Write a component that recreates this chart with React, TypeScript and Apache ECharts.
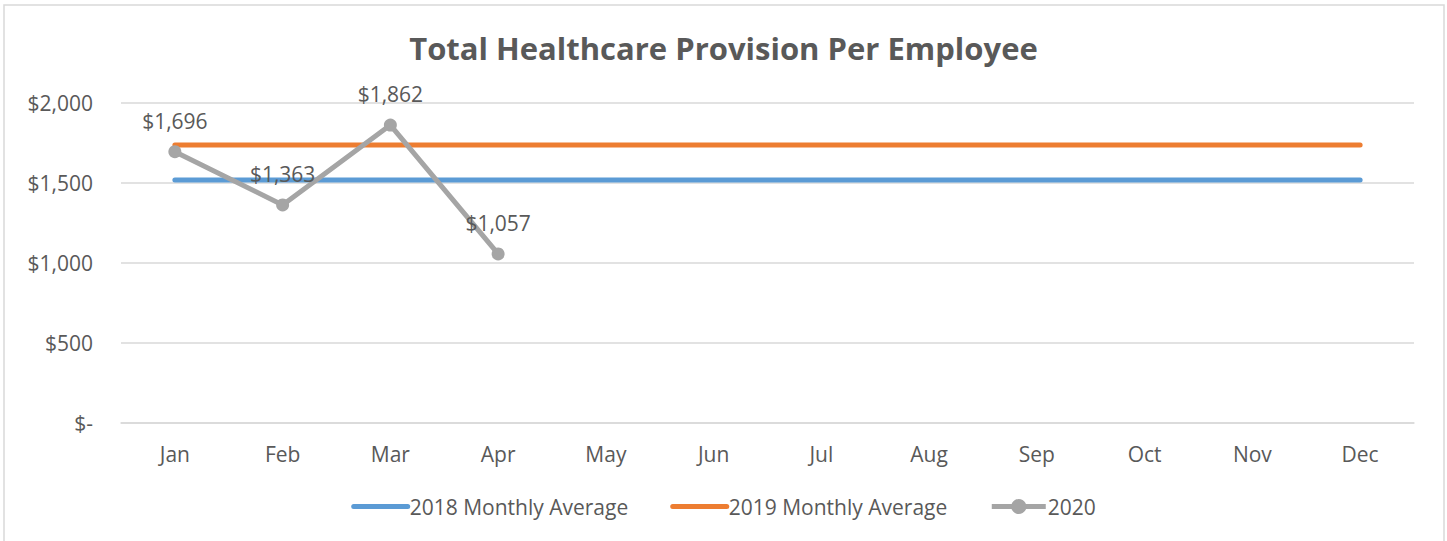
import React, { useEffect, useRef } from "react";
import * as echarts from "echarts";

const months = ["Jan", "Feb", "Mar", "Apr", "May", "Jun", "Jul", "Aug", "Sep", "Oct", "Nov", "Dec"];
const avg2018 = [1519, 1519, 1519, 1519, 1519, 1519, 1519, 1519, 1519, 1519, 1519, 1519];
const avg2019 = [1737, 1737, 1737, 1737, 1737, 1737, 1737, 1737, 1737, 1737, 1737, 1737];
const values2020 = [1696, 1363, 1862, 1057, null, null, null, null, null, null, null, null];
const yTicks = [0, 500, 1000, 1500, 2000];

const FONT = "'Open Sans', 'Noto Sans', sans-serif";
const TXT = "#595959";

function money(v: number): string {
  if (v === 0) return "$-";
  return "$" + v.toLocaleString("en-US");
}

export default function App() {
  const ref = useRef<HTMLDivElement>(null);
  useEffect(() => {
    if (!ref.current) return;
    const chart = echarts.init(ref.current, null, { renderer: "svg" });
    chart.setOption({
      animation: false,
      backgroundColor: "#ffffff",
      textStyle: { fontFamily: FONT },
      title: {
        text: "Total Healthcare Provision Per Employee",
        left: "center",
        top: 27,
        textStyle: { fontFamily: FONT, fontSize: 31, fontWeight: "bold", color: TXT },
      },
      graphic: [
        {
          type: "rect",
          shape: { x: 4, y: 5, width: 1440, height: 545 },
          style: { fill: "none", stroke: "#d9d9d9", lineWidth: 1.5 },
          silent: true,
        },
      ],
      grid: { left: 121, right: 33, top: 103, bottom: 118 },
      legend: {
        bottom: 19,
        left: "center",
        itemWidth: 54,
        itemHeight: 19,
        itemGap: 42,
        lineStyle: { width: 5 },
        textStyle: { fontFamily: FONT, fontSize: 21, color: TXT, padding: [0, 0, 0, -3] },
        data: [
          { name: "2018 Monthly Average", itemStyle: { opacity: 0 } },
          { name: "2019 Monthly Average", itemStyle: { opacity: 0 } },
          { name: "2020" },
        ],
      },
      xAxis: {
        type: "category",
        data: months,
        boundaryGap: true,
        axisLine: { show: true, lineStyle: { color: "#d9d9d9", width: 1.5 } },
        axisTick: { show: false },
        axisLabel: { color: TXT, fontSize: 21, fontFamily: FONT, margin: 20 },
      },
      yAxis: {
        type: "value",
        min: yTicks[0],
        max: yTicks[yTicks.length - 1],
        interval: 500,
        axisLine: { show: false },
        axisTick: { show: false },
        splitLine: { lineStyle: { color: "#d9d9d9", width: 1.5 } },
        axisLabel: { color: TXT, fontSize: 21, fontFamily: FONT, margin: 28, formatter: (v: number) => money(v) },
      },
      series: [
        {
          name: "2018 Monthly Average",
          type: "line",
          data: avg2018,
          showSymbol: false,
          symbol: "none",
          lineStyle: { color: "#5b9bd5", width: 5, cap: "round" },
          itemStyle: { color: "#5b9bd5" },
        },
        {
          name: "2019 Monthly Average",
          type: "line",
          data: avg2019,
          showSymbol: false,
          symbol: "none",
          lineStyle: { color: "#ed7d31", width: 5, cap: "round" },
          itemStyle: { color: "#ed7d31" },
        },
        {
          name: "2020",
          type: "line",
          data: values2020,
          symbol: "circle",
          symbolSize: 13,
          connectNulls: false,
          lineStyle: { color: "#a5a5a5", width: 5 },
          itemStyle: { color: "#a5a5a5" },
          label: {
            show: true,
            position: "top",
            distance: 14,
            color: TXT,
            fontSize: 21,
            fontFamily: FONT,
            formatter: (p: any) => money(p.value),
          },
          z: 3,
        },
      ],
    });
    return () => chart.dispose();
  }, []);
  return <div ref={ref} style={{ position: "fixed", left: 0, top: 0, width: 1447, height: 541 }} />;
}
